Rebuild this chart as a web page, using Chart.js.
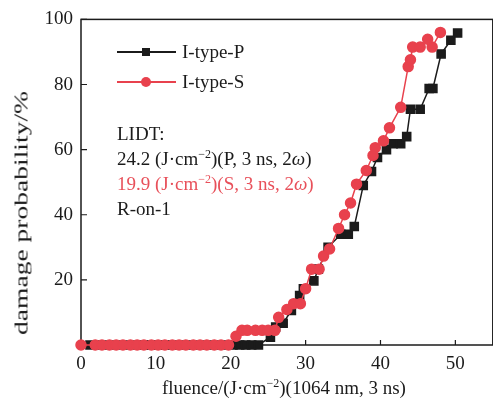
<!DOCTYPE html>
<html>
<head>
<meta charset="utf-8">
<script src="https://cdn.jsdelivr.net/npm/chart.js@4.4.1/dist/chart.umd.min.js"></script>
<style>
  html, body { margin: 0; padding: 0; background: #fff; overflow: hidden; }
  #wrap { position: relative; width: 493px; height: 407px; overflow: hidden; font-family: "Liberation Serif", "Times New Roman", serif; color: #1b1b1b; }
  #box { position: absolute; left: 0; top: 0; width: 500px; height: 407px; }
  .txt { position: absolute; font-size: 19px; line-height: 1; white-space: nowrap; }
  .red { color: #e8505a; }
  sup { font-size: 12px; vertical-align: 7px; line-height: 0; }
  .leg-line { position: absolute; height: 1.5px; width: 59px; }
  .leg-mark { position: absolute; }
</style>
</head>
<body>
<div id="wrap">
  <div id="box"><canvas id="chart"></canvas></div>

  <div class="leg-line" style="left:117px; top:51px; background:#1b1b1b"></div>
  <div class="leg-mark" style="left:142px; top:48px; width:8px; height:8px; background:#1b1b1b"></div>
  <div class="txt" style="left:182px; top:42px">I-type-P</div>

  <div class="leg-line" style="left:117px; top:81px; background:#e8414d"></div>
  <div class="leg-mark" style="left:141px; top:77px; width:10px; height:10px; border-radius:50%; background:#e8414d"></div>
  <div class="txt" style="left:182px; top:72px">I-type-S</div>

  <div class="txt" style="left:117px; top:124px">LIDT:</div>
  <div class="txt" style="left:117px; top:149px">24.2 (J·cm<sup>−2</sup>)(P, 3 ns, 2<i>ω</i>)</div>
  <div class="txt red" style="left:117px; top:174px">19.9 (J·cm<sup>−2</sup>)(S, 3 ns, 2<i>ω</i>)</div>
  <div class="txt" style="left:117px; top:199px">R-on-1</div>

  <div class="txt" style="left:162px; top:378px">fluence/(J·cm<sup>−2</sup>)(1064 nm, 3 ns)</div>
  <div class="txt" style="left:21px; top:213px; transform: translate(-50%, -50%) rotate(-90deg) scaleX(1.45)">damage probability/%</div>
</div>

<script>
// I-type-P (black squares)
const fluenceP = [1.2, 2.3, 3.3, 4.3, 5.3, 6.3, 7.3, 8.3, 9.3, 10.3, 11.3, 12.3, 13.3, 14.3, 15.3, 16.3, 17.3, 18.3, 19.3, 20.3,
    21.2, 22.0, 22.8, 23.7, 25.3, 26.0, 27.0, 28.1, 29.2, 29.7, 31.1, 31.7, 33.0, 34.7, 35.7, 36.5,
    37.7, 38.8, 39.6, 40.8, 41.7, 42.7, 43.5, 44.0, 45.3, 46.5, 47.0, 48.1, 49.4, 50.3];
const probP = [0, 0, 0, 0, 0, 0, 0, 0, 0, 0, 0, 0, 0, 0, 0, 0, 0, 0, 0, 0,
    0, 0, 0, 0, 2.4, 5.5, 6.7, 10.6, 15.2, 17.3, 19.7, 23.3, 30.0, 34.0, 34.0, 36.4,
    49.0, 53.3, 57.6, 60.0, 61.8, 61.8, 64.0, 72.4, 72.4, 78.8, 78.8, 89.4, 93.6, 95.8];

// I-type-S (red circles)
const fluenceS = [0, 1.9, 2.8, 3.8, 4.7, 5.6, 6.6, 7.5, 8.4, 9.4, 10.3, 11.2, 12.2, 13.1, 14.0, 15.0, 15.9, 16.8, 17.8, 18.7, 19.7,
    20.7, 21.5, 22.2, 23.3, 24.2, 25.0, 25.9, 26.4, 27.5, 28.4, 29.3, 30.0, 30.8, 31.8, 32.4, 33.2,
    34.4, 35.2, 36.0, 36.8, 38.1, 39.0, 39.3, 40.4, 41.2, 42.7, 43.7, 44.0, 44.3, 45.3, 46.3, 46.9, 48.0];
const probS = [0, 0, 0, 0, 0, 0, 0, 0, 0, 0, 0, 0, 0, 0, 0, 0, 0, 0, 0, 0, 0,
    2.7, 4.5, 4.5, 4.5, 4.5, 4.5, 4.5, 8.5, 10.9, 12.7, 12.7, 17.3, 23.3, 23.3, 27.3, 29.5,
    35.8, 40.0, 43.6, 49.4, 53.6, 58.2, 60.6, 62.7, 66.7, 73.0, 85.5, 87.6, 91.5, 91.5, 93.9, 91.5, 96.0];

const xTicks = [0, 10, 20, 30, 40, 50];
const yTicks = [20, 40, 60, 80, 100];

const black = '#1b1b1b';
const red = '#e8414d';

const toPoints = (xs, ys) => xs.map((x, i) => ({ x: x, y: ys[i] }));

// frame + inward tick marks, Origin style
const framePlugin = {
    id: 'frame',
    beforeDatasetsDraw(chart) {
        const { ctx, chartArea: a, scales } = chart;
        ctx.save();
        ctx.strokeStyle = black;
        ctx.lineWidth = 1.5;
        ctx.strokeRect(a.left, a.top, a.right - a.left, a.bottom - a.top);
        ctx.lineWidth = 1.2;
        ctx.beginPath();
        xTicks.forEach(v => {
            if (v === 0) return;
            const px = scales.x.getPixelForValue(v);
            ctx.moveTo(px, a.bottom);
            ctx.lineTo(px, a.bottom - 5);
        });
        yTicks.forEach(v => {
            const py = scales.y.getPixelForValue(v);
            ctx.moveTo(a.left, py);
            ctx.lineTo(a.left + 6, py);
        });
        ctx.stroke();
        ctx.restore();
    }
};

const chart = new Chart(document.getElementById('chart'), {
    type: 'line',
    data: {
        datasets: [
            {
                label: 'I-type-P',
                data: toPoints(fluenceP, probP),
                borderColor: black,
                backgroundColor: black,
                borderWidth: 1.5,
                pointStyle: 'rect',
                pointRadius: 5.7,
                pointHoverRadius: 5.7,
                tension: 0,
                clip: false,
                order: 1,
            },
            {
                label: 'I-type-S',
                data: toPoints(fluenceS, probS),
                borderColor: red,
                backgroundColor: red,
                borderWidth: 1.5,
                pointStyle: 'circle',
                pointRadius: 5,
                pointHoverRadius: 5,
                tension: 0,
                clip: false,
                order: 0,
            },
        ],
    },
    options: {
        responsive: true,
        maintainAspectRatio: false,
        animation: false,
        events: [],
        layout: { padding: { top: 15, right: 6, left: 0, bottom: 0 } },
        plugins: { legend: { display: false }, tooltip: { enabled: false } },
        scales: {
            x: {
                type: 'linear',
                min: 0,
                max: 55,
                afterBuildTicks: s => { s.ticks = xTicks.map(v => ({ value: v })); },
                afterFit: s => { s.height = 62; },
                grid: { display: false, drawTicks: false },
                border: { display: false },
                ticks: {
                    padding: 8,
                    color: black,
                    font: { family: 'Liberation Serif', size: 19 },
                },
            },
            y: {
                type: 'linear',
                min: 0,
                max: 100,
                afterBuildTicks: s => { s.ticks = yTicks.map(v => ({ value: v })); },
                afterFit: s => { s.width = 81; },
                grid: { display: false, drawTicks: false },
                border: { display: false },
                ticks: {
                    padding: 8,
                    color: black,
                    font: { family: 'Liberation Serif', size: 19 },
                },
            },
        },
    },
    plugins: [framePlugin],
});
</script>
</body>
</html>
